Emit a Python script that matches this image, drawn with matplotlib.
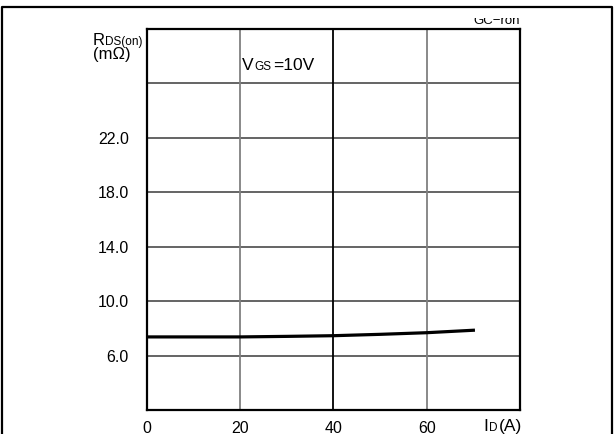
import matplotlib
matplotlib.use("Agg")
import matplotlib.pyplot as plt
import matplotlib.lines as mlines
from matplotlib.transforms import Bbox, offset_copy

plt.rcParams['font.family'] = ['Liberation Sans', 'DejaVu Sans']

id_a = [0, 10, 20, 30, 40, 50, 60, 70]
rds_mohm = [7.37, 7.37, 7.37, 7.41, 7.46, 7.56, 7.68, 7.86]

x_grid = [0, 20, 40, 60, 80]
x_labels = ["0", "20", "40", "60", ""]
y_grid = [2, 6, 10, 14, 18, 22, 26, 30]
y_labels = ["", "6.0", "10.0", "14.0", "18.0", "22.0", "", ""]

fig = plt.figure(figsize=(6.15, 4.34), dpi=100)
ax = fig.add_axes([0.239, 0.0553, 0.6065, 0.878])

ax.set_xlim(0, 80)
ax.set_ylim(2, 30)

# grille : lignes horizontales gris fonce, verticales alternees
for y in y_grid[1:-1]:
    ax.axhline(y, color="#3a3a3a", lw=1.1, zorder=1)
for x in x_grid[1:-1]:
    c = "black" if x == 40 else "#808080"
    ax.axvline(x, color=c, lw=1.3, zorder=1)

ax.plot(id_a, rds_mohm, color="black", lw=2.3, zorder=3)

ax.set_xticks(x_grid)
ax.set_xticklabels(x_labels)
ax.set_yticks(y_grid)
ax.set_yticklabels(y_labels)
ax.tick_params(length=0, labelsize=11.5, pad=8)
ax.tick_params(axis='y', pad=13)
for lbl in ax.get_yticklabels():
    lbl.set_va("center_baseline")
for s in ax.spines.values():
    s.set_linewidth(1.6)
    s.set_color("black")

fig.canvas.draw()
renderer = fig.canvas.get_renderer()


# libelles composes : grande lettre + indice en petites capitales, meme ligne de base
def libelle(x, y, morceaux):
    dx = 0
    for texte, fs in morceaux:
        tr = offset_copy(ax.transAxes, fig=fig, x=dx, y=0, units="dots")
        t = ax.text(x, y, texte, transform=tr, fontsize=fs,
                    ha="left", va="baseline", clip_on=False)
        dx += t.get_window_extent(renderer).width + 1


libelle(-0.147, 0.958, [("R", 12), ("DS(on)", 8.5)])
libelle(-0.145, 0.921, [("(m\u03a9)", 12)])
libelle(0.255, 0.892, [("V", 12.5), ("GS", 8.5), ("=10V", 12.5)])
libelle(0.901, -0.055, [("I", 12.5), ("D", 8.5), ("(A)", 12.5)])

gc = ax.text(1.0, 1.013, "GC\u2212ron", transform=ax.transAxes, fontsize=9.5,
             ha="right", va="baseline")
gc.set_clip_on(True)
gc.set_clip_box(Bbox.from_extents(0, 0, 615, 416))

# cadre exterieur
fig.add_artist(mlines.Line2D([0.004, 0.004, 0.995, 0.995], [0, 0.985, 0.985, 0],
                             color="black", lw=1.6, transform=fig.transFigure))

fig.savefig("out.png", dpi=100)
